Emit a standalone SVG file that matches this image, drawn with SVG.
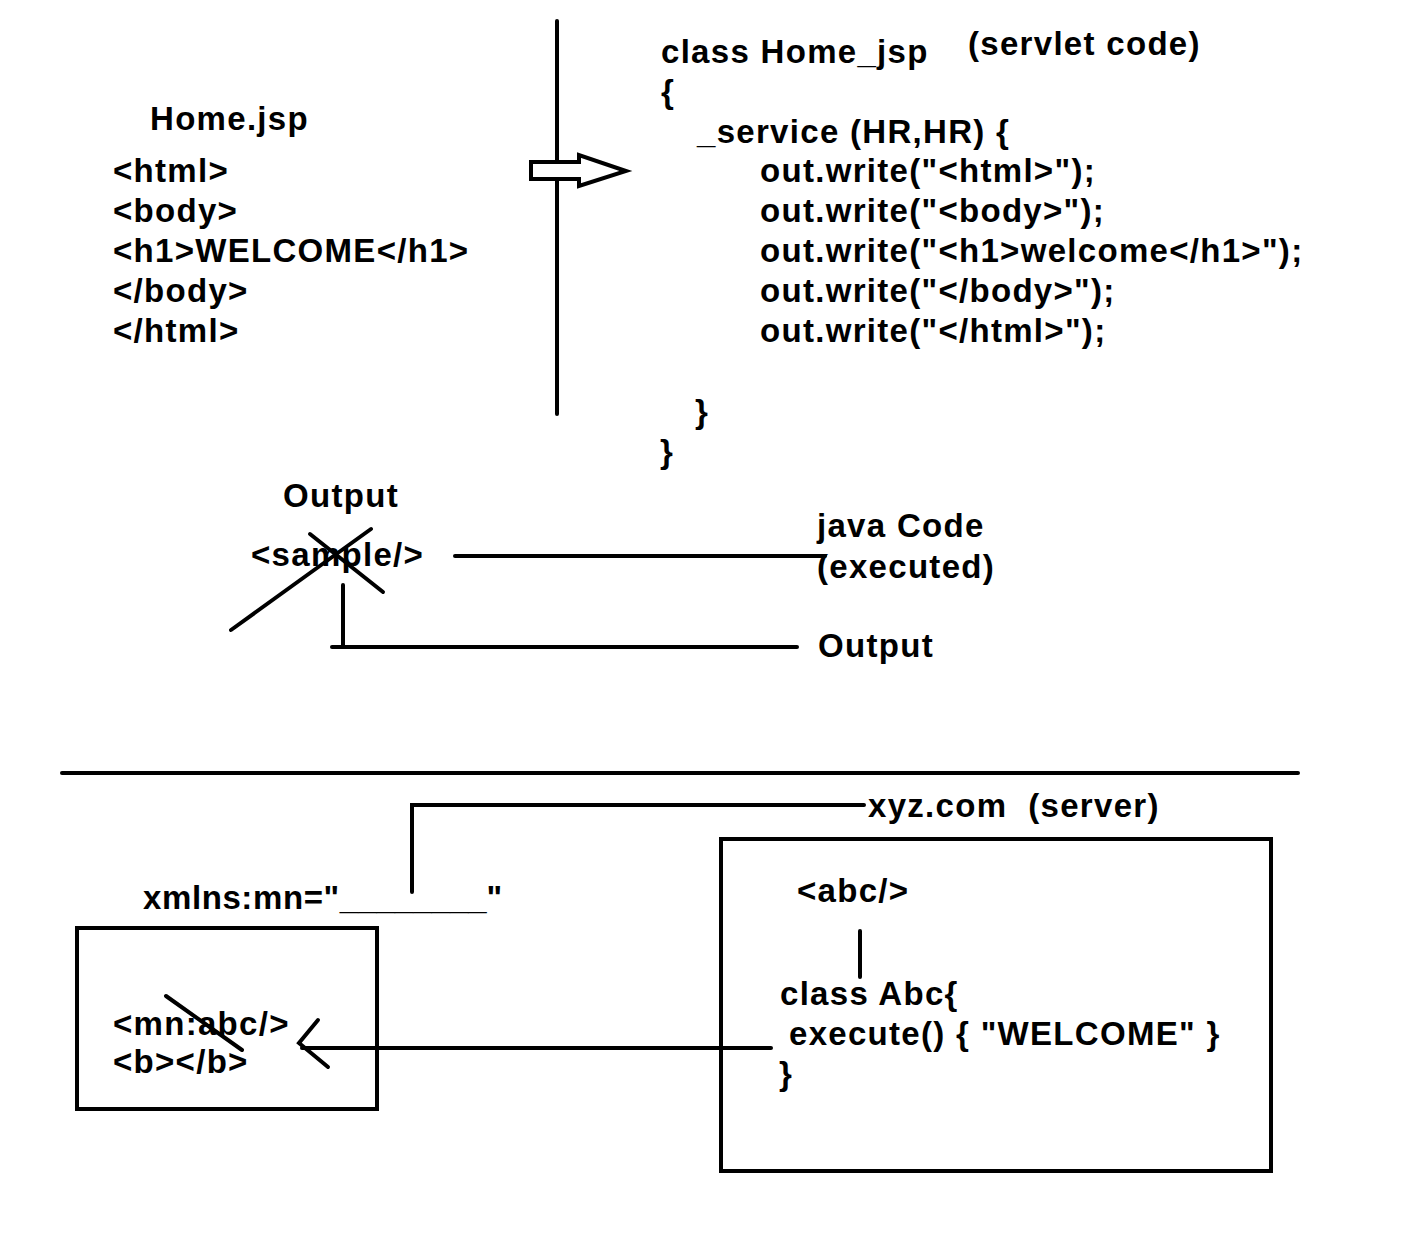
<svg xmlns="http://www.w3.org/2000/svg" width="1420" height="1236" viewBox="0 0 1420 1236">
<style>
text{font-family:"Liberation Sans",Arial,sans-serif;font-weight:bold;font-size:33px;fill:#000;letter-spacing:1.3px;white-space:pre}
.ln{stroke:#000;stroke-width:4;fill:none;stroke-linecap:round}
</style>
<rect width="1420" height="1236" fill="#fff"/>
<g id="connectors">
<line class="ln" x1="557" y1="21" x2="557" y2="414"/>
<polygon id="hollow-arrow" points="531,162 579,162 579,155 626,171 579,186 579,179 531,179" fill="#fff" stroke="#000" stroke-width="4" stroke-linejoin="miter"/>
<line class="ln" x1="455" y1="556" x2="825" y2="556"/>
<line class="ln" x1="343" y1="585" x2="343" y2="647"/>
<line class="ln" x1="332" y1="647" x2="797" y2="647"/>
<line class="ln" x1="231" y1="630" x2="371" y2="529"/>
<line class="ln" x1="310" y1="534" x2="383" y2="592"/>
<line class="ln" x1="62" y1="773" x2="1298" y2="773"/>
<polyline class="ln" points="412,892 412,805 864,805"/>
<line class="ln" x1="860" y1="931" x2="860" y2="977"/>
<line class="ln" x1="302" y1="1048" x2="771" y2="1048"/>
<polyline class="ln" points="318,1020 299,1043 328,1067"/>
<line class="ln" x1="166" y1="996" x2="242" y2="1050"/>
</g>
<g id="home-jsp">
<text x="150" y="130">Home.jsp</text>
<text x="113" y="182">&lt;html&gt;</text>
<text x="113" y="222">&lt;body&gt;</text>
<text x="113" y="262">&lt;h1&gt;WELCOME&lt;/h1&gt;</text>
<text x="113" y="302">&lt;/body&gt;</text>
<text x="113" y="342">&lt;/html&gt;</text>
</g>
<g id="servlet-code">
<text x="661" y="63">class Home_jsp</text>
<text x="968" y="55">(servlet code)</text>
<text x="661" y="103">{</text>
<text x="697" y="143">_service (HR,HR) {</text>
<text x="760" y="182">out.write("&lt;html&gt;");</text>
<text x="760" y="222">out.write("&lt;body&gt;");</text>
<text x="760" y="262">out.write("&lt;h1&gt;welcome&lt;/h1&gt;");</text>
<text x="760" y="302">out.write("&lt;/body&gt;");</text>
<text x="760" y="342">out.write("&lt;/html&gt;");</text>
<text x="695" y="423">}</text>
<text x="660" y="463">}</text>
</g>
<g id="output-sample">
<text x="283" y="507">Output</text>
<text x="251" y="566">&lt;sample/&gt;</text>
</g>
<g id="java-code">
<text x="817" y="537">java Code</text>
<text x="817" y="578">(executed)</text>
</g>
<g id="output-label">
<text x="818" y="657">Output</text>
</g>
<g id="xmlns">
<text x="143" y="909" style="letter-spacing:0.6px">xmlns:mn="<tspan style="letter-spacing:0">________</tspan>"</text>
</g>
<g id="client-box">
<rect x="77" y="928" width="300" height="181" fill="none" stroke="#000" stroke-width="4"/>
<text x="113" y="1035">&lt;mn:abc/&gt;</text>
<text x="113" y="1073">&lt;b&gt;&lt;/b&gt;</text>
</g>
<g id="server">
<text x="868" y="817">xyz.com  (server)</text>
<rect x="721" y="839" width="550" height="332" fill="none" stroke="#000" stroke-width="4"/>
<text x="797" y="902">&lt;abc/&gt;</text>
<text x="780" y="1005">class Abc{</text>
<text x="789" y="1045">execute() { "WELCOME" }</text>
<text x="779" y="1085">}</text>
</g>
</svg>
